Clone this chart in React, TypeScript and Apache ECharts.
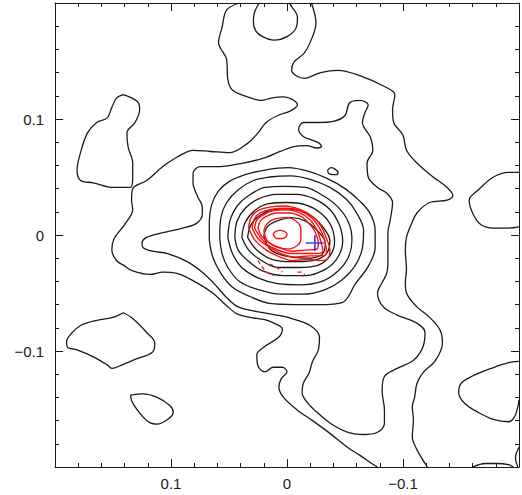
import React, { useEffect, useRef } from 'react';
import * as echarts from 'echarts';

type Pt = [number, number];

// Contour vertices, in thousandths of an axis unit (x, y)
const UNIT = 0.001;

// lowest black level: open curves reaching the frame
const level1West: Pt[] = [
  [41, 200], [52, 194], [56, 179], [59, 166], [52, 151], [51, 134], [47, 125], [34, 119], [22, 116],
  [14, 118], [3, 119], [-6, 116], [-9, 112], [-3, 107], [8, 103], [18, 97], [25, 88], [34, 79],
  [49, 71], [66, 72], [81, 73], [95, 67], [107, 59], [121, 47], [133, 40], [134, 30], [133, 22],
  [140, 9], [149, -3], [151, -13], [147, -22], [141, -26], [133, -31], [118, -34], [107, -32],
  [95, -33], [78, -41], [64, -50], [52, -61], [43, -68], [32, -71], [19, -73], [9, -77], [4, -81],
  [7, -88], [19, -96], [26, -103], [25, -113], [19, -118], [12, -114], [4, -114], [0, -118],
  [5, -124], [7, -131], [3, -140], [-9, -151], [-22, -160], [-37, -171], [-52, -183], [-63, -190],
  [-73, -197], [-78, -200],
];
const level1East: Pt[] = [
  [-21, 200], [-25, 183], [-22, 171], [-15, 157], [-6, 149], [-4, 142], [-15, 135], [-29, 140],
  [-44, 142], [-61, 138], [-84, 128], [-93, 121], [-91, 108], [-92, 97], [-100, 86], [-103, 73],
  [-112, 62], [-126, 50], [-138, 41], [-143, 34], [-138, 30], [-123, 28], [-112, 19], [-107, 9],
  [-103, -2], [-102, -13], [-103, -30], [-102, -41], [-103, -50], [-112, -62], [-123, -71],
  [-132, -82], [-134, -93], [-128, -108], [-117, -119], [-112, -128], [-110, -140], [-108, -148],
  [-109, -159], [-108, -174], [-112, -185], [-121, -200],
];
const topNotch: Pt[] = [
  [24, 200], [28, 192], [29, 184], [27, 176], [21, 171], [11, 168], [0, 171], [-8, 179], [-9, 188],
  [-4, 197], [-2, 200],
];
const rightBlobUpper: Pt[] = [
  [-200, 54], [-191, 54], [-178, 50], [-165, 39], [-157, 30], [-160, 19], [-167, 9], [-178, 6],
  [-191, 6], [-200, 7],
];
const rightBlobLower: Pt[] = [
  [-200, -109], [-191, -110], [-176, -115], [-159, -122], [-150, -128], [-148, -136], [-153, -145],
  [-165, -153], [-178, -159], [-191, -161], [-196, -157], [-199, -148], [-200, -142],
];
const cornerBottom: Pt[] = [[-160, -200], [-171, -197], [-181, -197], [-191, -198], [-195, -200]];
const cornerRight: Pt[] = [[-200, -183], [-197, -192], [-199, -200]];

// closed black islands
const blobUpperLeft: Pt[] = [
  [141, 121], [129, 115], [127, 108], [131, 97], [138, 88], [137, 76], [133, 62], [133, 50],
  [135, 41], [150, 41], [167, 45], [178, 47], [181, 56], [178, 71], [172, 88], [164, 97],
  [155, 101], [151, 110], [147, 118],
];
const blobLowerLeft: Pt[] = [
  [141, -67], [133, -72], [121, -84], [114, -93], [116, -101], [133, -108], [147, -114], [151, -115],
  [155, -112], [167, -105], [181, -99], [189, -97], [190, -92], [185, -84], [178, -78], [170, -75],
  [161, -73], [150, -71],
];
const blobSmall: Pt[] = [
  [135, -138], [124, -137], [112, -140], [101, -147], [98, -153], [103, -159], [112, -163],
  [118, -162], [124, -157], [133, -145],
];
const tinyIsland: Pt[] = [[-35, 56], [-38, 58], [-41, 57], [-44, 54], [-43, 52], [-40, 52], [-36, 53]];

// second black level
const level2: Pt[] = [
  [-30, 76], [-26, 75], [-17, 77], [-5, 76], [6, 72], [21, 66], [38, 62], [58, 59], [75, 59],
  [81, 53], [81, 45], [77, 33], [73, 24], [73, 18], [78, 10], [90, 6], [107, 2], [121, -2],
  [125, -7], [124, -11], [116, -14], [103, -16], [86, -23], [72, -33], [60, -45], [52, -54],
  [42, -62], [26, -66], [9, -69], [-4, -72], [-20, -78], [-28, -88], [-27, -99], [-22, -109],
  [-19, -119], [-14, -128], [-13, -136], [-18, -145], [-26, -153], [-37, -162], [-52, -170],
  [-66, -172], [-78, -170], [-84, -162], [-84, -151], [-82, -134], [-84, -122], [-95, -115],
  [-109, -108], [-117, -97], [-119, -84], [-112, -76], [-95, -69], [-83, -62], [-78, -50],
  [-82, -41], [-86, -33], [-87, -22], [-87, -13], [-87, 2], [-89, 13], [-91, 28], [-86, 36],
  [-78, 41], [-70, 50], [-69, 62], [-74, 73], [-72, 84], [-65, 97], [-67, 105], [-70, 112],
  [-63, 116], [-54, 114], [-50, 103], [-40, 98], [-26, 97], [-14, 97], [-10, 91], [-14, 85],
  [-21, 82], [-28, 79],
];

// concentric black levels 3..9
const ring3: Pt[] = [
  [67, -4], [67, 11], [65, 26], [59, 38], [50, 46], [36, 52], [19, 56], [-1, 58], [-18, 55],
  [-34, 49], [-50, 40], [-63, 29], [-72, 18], [-76, 4], [-76, -11], [-70, -27], [-59, -42],
  [-48, -58], [-28, -60], [-7, -60], [15, -59], [32, -53], [47, -45], [57, -33], [64, -19],
];
const ring4: Pt[] = [
  [58, -2], [57, 15], [52, 28], [42, 39], [29, 47], [15, 50], [-3, 51], [-20, 48], [-37, 41],
  [-51, 31], [-60, 19], [-66, 4], [-65, -11], [-59, -26], [-47, -39], [-33, -47], [-14, -51],
  [6, -51], [25, -47], [41, -40], [51, -28], [56, -16],
];
const ring5: Pt[] = [
  [51, -2], [49, 13], [43, 25], [33, 34], [19, 41], [2, 42], [-16, 41], [-31, 34], [-44, 24],
  [-53, 11], [-56, -4], [-53, -19], [-44, -31], [-30, -40], [-11, -43], [8, -42], [25, -37],
  [39, -28], [47, -16],
];
const ring6: Pt[] = [
  [45, -2], [43, 12], [36, 23], [25, 31], [9, 35], [-8, 35], [-24, 31], [-37, 22], [-45, 9],
  [-48, -5], [-44, -19], [-34, -29], [-16, -35], [3, -35], [21, -31], [34, -22], [42, -13],
];
const ring7: Pt[] = [
  [39, -2], [36, 11], [28, 21], [16, 27], [0, 28], [-16, 26], [-29, 19], [-38, 8], [-41, -6],
  [-37, -18], [-27, -26], [-10, -28], [8, -28], [22, -22], [33, -13],
];
const ring8: Pt[] = [
  [34, -2], [31, 9], [23, 17], [10, 22], [-5, 22], [-20, 17], [-30, 8], [-37, -5], [-34, -16],
  [-22, -22], [-4, -23], [13, -21], [26, -13],
];
const ring9: Pt[] = [
  [20, -1], [17, 7], [9, 12], [-4, 15], [-16, 12], [-26, 4], [-33, -7], [-30, -17], [-16, -20],
  [2, -18], [14, -13],
];

// red (second map) positive levels
const red1: Pt[] = [
  [33, 6], [31, 15], [25, 21], [15, 24], [2, 25], [-11, 22], [-22, 16], [-29, 8], [-34, -3],
  [-37, -13], [-36, -19], [-30, -22], [-18, -21], [-5, -22], [6, -19], [18, -13], [28, -4],
];
const red2: Pt[] = [
  [30, 6], [28, 14], [23, 19], [14, 22], [1, 23], [-11, 21], [-21, 15], [-28, 6], [-32, -3],
  [-34, -14], [-32, -18], [-20, -18], [-6, -19], [5, -16], [16, -10], [25, -3],
];
const red3: Pt[] = [
  [28, 6], [26, 13], [21, 17], [12, 21], [0, 22], [-11, 19], [-20, 13], [-26, 4], [-29, -5],
  [-31, -14], [-27, -16], [-16, -16], [-4, -16], [5, -14], [16, -9], [23, -2],
];
const red4: Pt[] = [
  [25, 6], [23, 12], [18, 16], [9, 19], [-2, 19], [-12, 16], [-19, 10], [-24, 3], [-27, -7],
  [-26, -12], [-16, -13], [-4, -14], [6, -11], [15, -7], [22, -1],
];
const red5: Pt[] = [
  [20, 4], [17, 10], [10, 14], [0, 15], [-9, 11], [-12, 4], [-12, -3], [-9, -9], [0, -12],
  [10, -10], [17, -5],
];
const red6: Pt[] = [[12, 1], [10, 3], [6, 4], [2, 3], [0, 1], [1, -2], [5, -3], [9, -3]];

// red negative levels (dashed)
const redNegA: Pt[] = [[25, -22], [21, -28], [16, -33], [11, -35]];
const redNegB: Pt[] = [[15, -25], [9, -28], [4, -32]];
const redNegC: Pt[] = [[-9, -32], [-13, -32], [-15, -34], [-11, -37]];

// position marker
const crossCenter: Pt = [-24, -7];

// axis
const axisMin = -0.2;
const axisMax = 0.2;
const majorStep = 0.1;
const labelledTicks = [0.1, 0, -0.1];

const blackOpen = [level1West, level1East, topNotch, rightBlobUpper, rightBlobLower, cornerBottom, cornerRight];
const blackClosed = [blobUpperLeft, blobLowerLeft, blobSmall, tinyIsland, level2, ring3, ring4, ring5, ring6, ring7, ring8, ring9];
const redClosed = [red1, red2, red3, red4, red5, red6];
const redDashed = [redNegA, redNegB, redNegC];

const toData = (pts: Pt[], closed: boolean) => {
  const d = pts.map(([x, y]) => [x * UNIT, y * UNIT]);
  if (closed) d.push(d[0]);
  return d;
};

const fmt = (v: number) => {
  if (Math.abs(v) < 1e-9) return '0';
  return (v < 0 ? '\u2212' : '') + Math.abs(v).toFixed(1);
};

const INK = '#1a1a1a';
const FONT = "'Liberation Sans', Arial, Helvetica, sans-serif";

const makeAxis = (showLabels: boolean, position: string, inverse: boolean, margin: number) => ({
  type: 'value',
  position,
  inverse,
  min: axisMin,
  max: axisMax,
  interval: majorStep,
  axisLine: { show: true, onZero: false, lineStyle: { color: INK, width: 1 } },
  axisTick: { show: true, inside: true, length: 8, lineStyle: { color: INK, width: 1 } },
  minorTick: { show: true, splitNumber: 5, length: 4, lineStyle: { color: INK, width: 1 } },
  splitLine: { show: false },
  minorSplitLine: { show: false },
  axisLabel: {
    show: showLabels,
    margin,
    color: INK,
    fontSize: 15,
    fontFamily: FONT,
    formatter: (v: number) => (labelledTicks.some((t) => Math.abs(t - v) < 1e-9) ? fmt(v) : ''),
  },
});

export default function App() {
  const ref = useRef<HTMLDivElement>(null);
  useEffect(() => {
    if (!ref.current) return;
    const chart = echarts.init(ref.current, undefined, { renderer: 'svg' });
    const series: any[] = [];
    const lineBase = {
      type: 'line',
      xAxisIndex: 0,
      yAxisIndex: 0,
      showSymbol: false,
      symbol: 'none',
      smooth: 0.35,
      silent: true,
      animation: false,
    };
    blackOpen.forEach((p) =>
      series.push({ ...lineBase, data: toData(p, false), lineStyle: { color: INK, width: 1.3 }, z: 2 })
    );
    blackClosed.forEach((p) =>
      series.push({ ...lineBase, data: toData(p, true), lineStyle: { color: INK, width: 1.3 }, z: 2 })
    );
    redClosed.forEach((p) =>
      series.push({ ...lineBase, data: toData(p, true), lineStyle: { color: '#ff1010', width: 1.4 }, z: 3 })
    );
    redDashed.forEach((p) =>
      series.push({
        ...lineBase,
        data: toData(p, false),
        lineStyle: { color: '#ff1010', width: 1.3, type: [4, 3] },
        z: 3,
      })
    );
    series.push({
      type: 'scatter',
      xAxisIndex: 0,
      yAxisIndex: 0,
      data: [[crossCenter[0] * UNIT, crossCenter[1] * UNIT]],
      symbol: 'path://M10,0L10,20M0,10L20,10',
      symbolSize: [18, 16],
      itemStyle: { color: 'transparent', borderColor: '#1515e6', borderWidth: 1.6 },
      silent: true,
      z: 5,
    });
    chart.setOption({
      animation: false,
      backgroundColor: '#ffffff',
      grid: { left: 55, top: 3, width: 464, height: 464, containLabel: false },
      xAxis: [makeAxis(true, 'bottom', true, 9), makeAxis(false, 'top', true, 9)],
      yAxis: [makeAxis(true, 'left', false, 11), makeAxis(false, 'right', false, 11)],
      series,
    });
    return () => chart.dispose();
  }, []);
  return (
    <div
      ref={ref}
      style={{ position: 'absolute', left: 0, top: 0, width: 522, height: 495, background: '#fff' }}
    />
  );
}
